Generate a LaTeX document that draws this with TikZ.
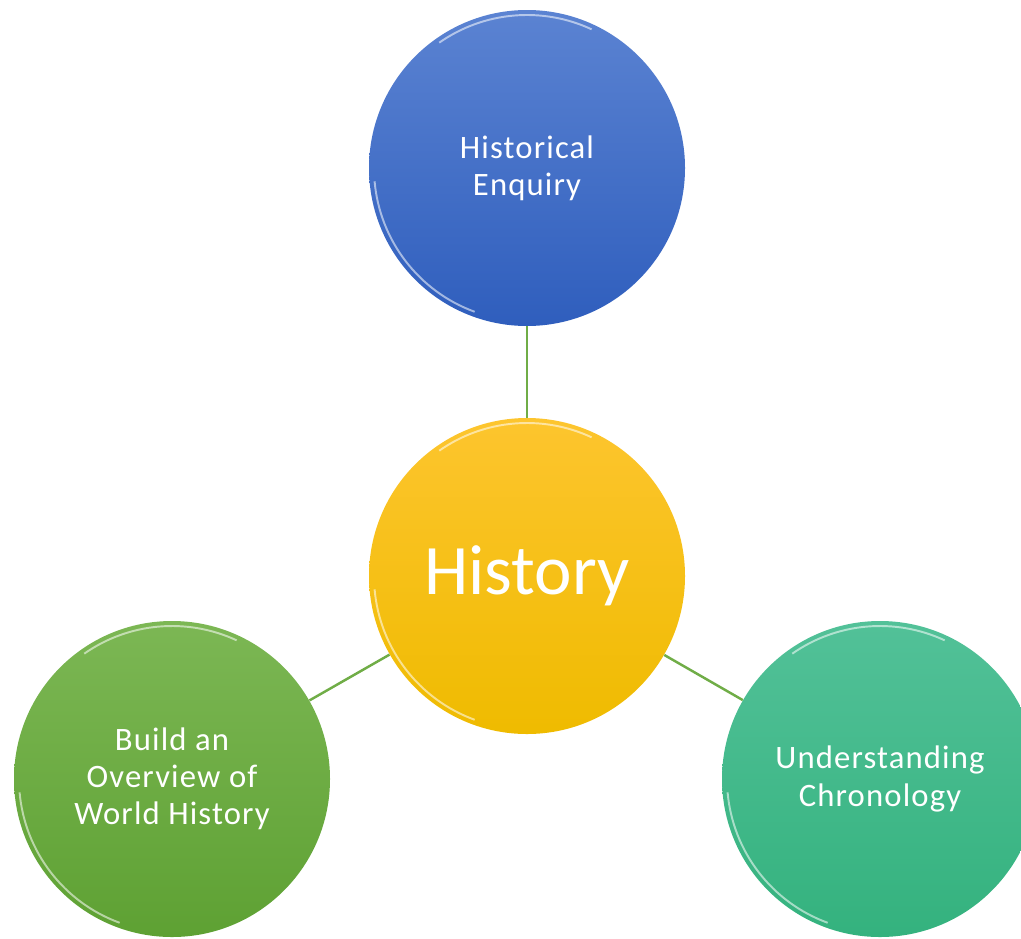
\documentclass[tikz,border=0pt]{standalone}
\usepackage{fontspec}
\setmainfont{Carlito}
\newfontfamily\topicfont[LetterSpace=3.5]{Carlito}
\definecolor{enqtop}{HTML}{5B83D2}
\definecolor{enqbot}{HTML}{2F5EBD}
\definecolor{histtop}{HTML}{FDC52E}
\definecolor{histbot}{HTML}{EFBB00}
\definecolor{worldtop}{HTML}{7CB754}
\definecolor{worldbot}{HTML}{5EA133}
\definecolor{chrontop}{HTML}{52C198}
\definecolor{chronbot}{HTML}{34B27E}
\definecolor{linkgreen}{HTML}{70AD47}
\tikzset{
  topic/.style={circle, minimum size=6.32cm, inner sep=0pt, text=white,
    align=center, font=\topicfont\fontsize{18.6}{21.2}\selectfont},
  link/.style={draw=linkgreen, line width=1.4pt},
  gloss/.style={draw=white, line width=1.1pt, opacity=.55},
}
\begin{document}
\begin{tikzpicture}
    \useasboundingbox (0,0) rectangle (20.42,-18.76);
    \clip (0,0) rectangle (20.42,-18.76);
    \node[topic, top color=histtop, bottom color=histbot,
      font=\rmfamily\fontsize{40.4}{48}\selectfont] (hist) at (10.54,-11.52) {History};
    \node[topic, top color=enqtop, bottom color=enqbot] (enq) at (10.54,-3.36) {Historical\\Enquiry};
    \node[topic, top color=worldtop, bottom color=worldbot] (world) at (3.44,-15.58) {Build an\\Overview of\\World History};
    \node[topic, top color=chrontop, bottom color=chronbot] (chron) at (17.60,-15.58) {Understanding\\Chronology};
    \draw[link] (hist) -- (enq);
    \draw[link] (hist) -- (world);
    \draw[link] (hist) -- (chron);
    % glossy rims
    \foreach \n in {hist,enq,world,chron} {
      \draw[gloss] ([shift={(185:3.06)}]\n.center) arc[start angle=185, end angle=250, radius=3.06];
      \draw[gloss] ([shift={(65:3.06)}]\n.center) arc[start angle=65, end angle=125, radius=3.06];
    }
  \end{tikzpicture}
\end{document}
